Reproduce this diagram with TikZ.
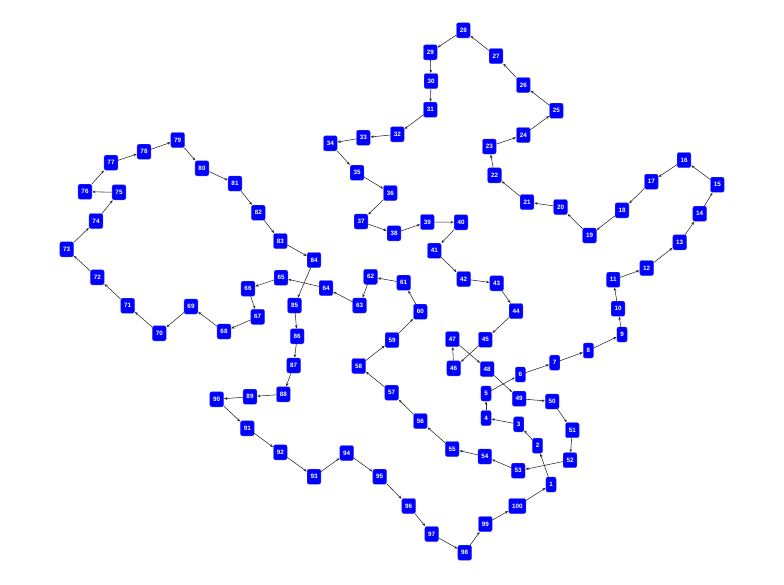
\documentclass[tikz,border=0pt]{standalone}
\usepackage{fontspec}
\setmainfont{Liberation Sans}
\usetikzlibrary{arrows.meta}
\begin{document}
\begin{tikzpicture}[x=1pt,y=-1pt,
  nd/.style={rectangle,rounded corners=2pt,fill=blue,draw=blue!80!white,line width=0.4pt,
    text=white,font=\fontsize{6.3}{7}\selectfont\bfseries,inner xsep=3.3pt,inner ysep=0pt,
    minimum height=15pt,minimum width=10pt},
  arr/.style={draw=black!85,line width=0.55pt,-{Stealth[length=3.2pt,width=2.6pt]},shorten >=0.3pt}]
\useasboundingbox (0,0) rectangle (784,584);
\foreach \n/\x/\y in {1/551/484.5,2/537.5/445.7,3/518.7/424.3,4/486/418,5/486/393.5,
 6/520.3/374.5,7/554.7/362.7,8/588.3/350.5,9/622/334.5,10/618/308.7,
 11/613.3/279.7,12/646.7/268,13/679.7/242.3,14/699.7/213.7,15/717.3/184.7,
 16/684/160,17/651.3/181.7,18/622/210.3,19/589.5/235.5,20/560.5/207,
 21/527/202,22/494.5/175.3,23/489.3/146.5,24/523.3/135,25/556.3/110.7,
 26/523.3/85,27/496/56,28/463.3/30.3,29/430.3/52.3,30/431/81,
 31/430.3/109.7,32/397.3/134.3,33/363.3/137.7,34/330.3/143.3,35/357/172.7,
 36/390.3/193,37/361/221.5,38/394/233.3,39/427.3/222,40/461/222.3,
 41/434.3/250.7,42/463.7/279,43/496.7/283.3,44/516/311,45/485.3/339.7,
 46/453.7/368.3,47/452.3/339.2,48/487.2/369,49/519.2/398.7,50/552.2/401.5,
 51/572.3/430.2,52/570/460.2,53/518.2/470.7,54/484.8/456.5,55/452.2/449,
 56/420.3/421,57/391.7/392.7,58/358.7/366,59/392/340,60/420.3/311.7,
 61/403.7/282.7,62/370.5/276.8,63/359.5/305.5,64/326/288,65/281/277.7,
 66/248/288.7,67/257.7/316.8,68/224/331.5,69/191/306.5,70/159.3/333.3,
 71/127.7/305.7,72/97.3/277.3,73/66.7/249.3,74/96/221,75/119/192.3,
 76/85/191.7,77/111/162.7,78/144/151.7,79/177.7/140,80/202/168.3,
 81/235/183.5,82/258.3/212.7,83/280.3/241,84/314/260,85/294.5/305.5,
 86/297.2/336.3,87/293.7/365.5,88/283.3/394.3,89/250/396.7,90/216.7/399.3,
 91/247.3/428.3,92/280.3/452.3,93/314/476.7,94/346.7/453,95/379.7/476.7,
 96/408.7/506,97/431.7/534,98/464.7/552.7,99/485.3/524,100/517.3/506}
  \node[nd] (n\n) at (\x,\y) {\n};
\foreach \i [evaluate=\i as \j using {int(mod(\i,100)+1)}] in {1,...,100}
  \draw[arr] (n\i) -- (n\j);
\end{tikzpicture}
\end{document}
